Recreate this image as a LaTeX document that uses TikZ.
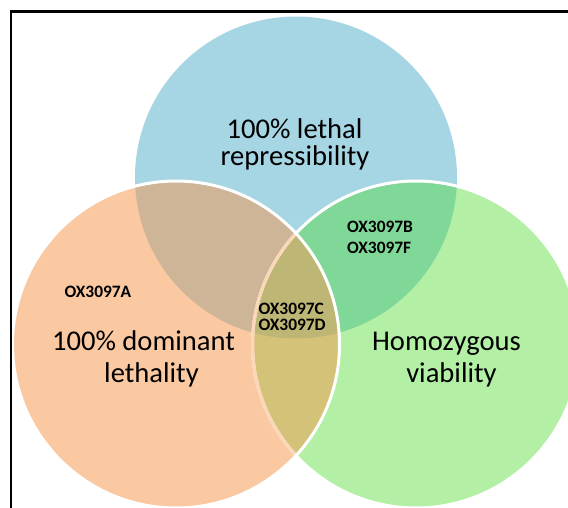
\documentclass[tikz,border=0pt]{standalone}
\usepackage{fontspec}
\setmainfont{Carlito}
\definecolor{cblue}{HTML}{A6D5E3}
\definecolor{cora}{HTML}{FAC9A2}
\definecolor{cgre}{HTML}{B3F0A6}
\definecolor{cbo}{HTML}{CEB597}
\definecolor{cbg}{HTML}{80D898}
\definecolor{cog}{HTML}{D5C279}
\definecolor{ctri}{HTML}{BDB674}
\definecolor{cpale}{HTML}{FBD7B8}
\tikzset{
  bigtxt/.style={anchor=base, inner sep=0pt, font=\fontsize{28.6}{30}\selectfont},
  smalltxt/.style={anchor=base west, inner sep=0pt, font=\fontsize{17.4}{18}\selectfont\bfseries},
  rimline/.style={line width=3pt}
}
\begin{document}
\begin{tikzpicture}[x=1pt,y=-1pt]
\useasboundingbox (0,0) rectangle (568,508);
\coordinate (cb) at (296,177.5);
\coordinate (co) at (176,344.5);
\coordinate (cg) at (416,344.5);
\def\rb{161pt}
\def\rr{163.5pt}
% base fills
\fill[cblue] (cb) circle[radius=\rb];
\fill[cora] (co) circle[radius=\rr];
\fill[cgre] (cg) circle[radius=\rr];
\begin{scope}
  \clip (cb) circle[radius=\rb];
  \fill[cbo] (co) circle[radius=\rr];
  \fill[cbg] (cg) circle[radius=\rr];
\end{scope}
\begin{scope}
  \clip (co) circle[radius=\rr];
  \fill[cog] (cg) circle[radius=\rr];
  \clip (cb) circle[radius=\rb];
  \fill[ctri] (cg) circle[radius=\rr];
\end{scope}
% rims
\draw[white, rimline] (cg) circle[radius=\rr];
\begin{scope}
  \clip (co) circle[radius=\rr];
  \draw[cpale, rimline] (cg) circle[radius=\rr];
\end{scope}
\draw[white, rimline] (co) circle[radius=\rr];
% frame
\draw[line width=2.6pt] (10.8,530) -- (10.8,11.3) -- (590,11.3);
% texts
\node[bigtxt] (t1) at (294.5,139) {100\% lethal};
\node[bigtxt] (t2) at (295,166) {repressibility};
\node[bigtxt] (t3) at (143.5,350) {100\% dominant};
\node[bigtxt] (t4) at (151.5,382) {lethality};
\node[bigtxt] (t5) at (446.5,350) {Homozygous};
\node[bigtxt] (t6) at (451.5,382) {viability};
\node[smalltxt] (sa) at (64.5,297) {OX3097A};
\node[smalltxt] (sb) at (347,233) {OX3097B};
\node[smalltxt] (sf) at (347,253) {OX3097F};
\node[smalltxt] (sc) at (258.5,314) {OX3097C};
\node[smalltxt] (sd) at (258.5,330.5) {OX3097D};
\end{tikzpicture}
\end{document}
